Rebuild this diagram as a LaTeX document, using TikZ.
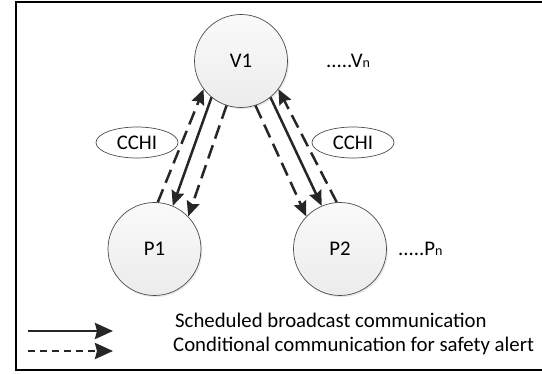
\documentclass[tikz,border=0pt]{standalone}
\usepackage{fontspec}
\setmainfont{Carlito}
\usetikzlibrary{arrows.meta,shadows,shapes.geometric}
\newcommand\smalln{{\fontsize{14}{14}\selectfont n}}
\begin{document}
\begin{tikzpicture}[x=1pt,y=-1pt,
  font=\fontsize{20.8}{24}\selectfont,
  station/.style={circle,draw=gray!60!black,line width=0.7pt,minimum size=93pt,inner sep=0pt,
    top color=gray!4,bottom color=gray!15,
    drop shadow={opacity=0.18,shadow xshift=1.3pt,shadow yshift=-1.6pt}},
  chan/.style={ellipse,draw=gray!60!black,line width=0.7pt,fill=white,
    minimum width=82pt,minimum height=31pt,inner sep=0pt},
  link/.style={draw=black!85,line width=2.5pt,-{Stealth[length=15pt,width=13pt,inset=2pt]}},
  cond/.style={link,dash pattern=on 14pt off 7pt},
  keysolid/.style={draw=black!85,line width=2.7pt,-{Stealth[length=18pt,width=16pt,inset=2pt]}},
  keydash/.style={keysolid,dash pattern=on 7pt off 5pt},
  label/.style={anchor=base west,inner sep=0pt}
]
\useasboundingbox (0,0) rectangle (542,374);
\fill[white] (0,0) rectangle (542,374);
\draw[line width=2.2pt] (542,2.2) -- (16.2,2.2) -- (16.2,370) -- (542,370);

\node[station] (V1) at (241,61) {V1};
\node[station] (P1) at (154.5,249) {P1};
\node[station] (P2) at (340,249) {P2};

\draw[cond] (P1.86) -- (V1.217);
\draw[link] (V1.231) -- (P1.67);
\draw[cond] (V1.252) -- (P1.44);
\draw[cond] (V1.288) -- (P2.136);
\draw[link] (V1.309) -- (P2.113);
\draw[cond] (P2.94) -- (V1.323);

\node[chan] (C1) at (137,142.5) {CCHI};
\node[chan] (C2) at (353,142.5) {CCHI};

\node[label] (Vn) at (326,68) {.....V\smalln};
\node[label] (Pn) at (398,256) {.....P\smalln};

\coordinate (s0) at (28,331); \coordinate (s1) at (113,331);
\draw[keysolid] (s0) -- (s1);
\coordinate (d0) at (28,351); \coordinate (d1) at (113,351);
\draw[keydash] (d0) -- (d1);
\node[label] (L1) at (175,328) {Scheduled broadcast communication};
\node[label] (L2) at (173,352) {Conditional communication for safety alert};
\end{tikzpicture}
\end{document}
